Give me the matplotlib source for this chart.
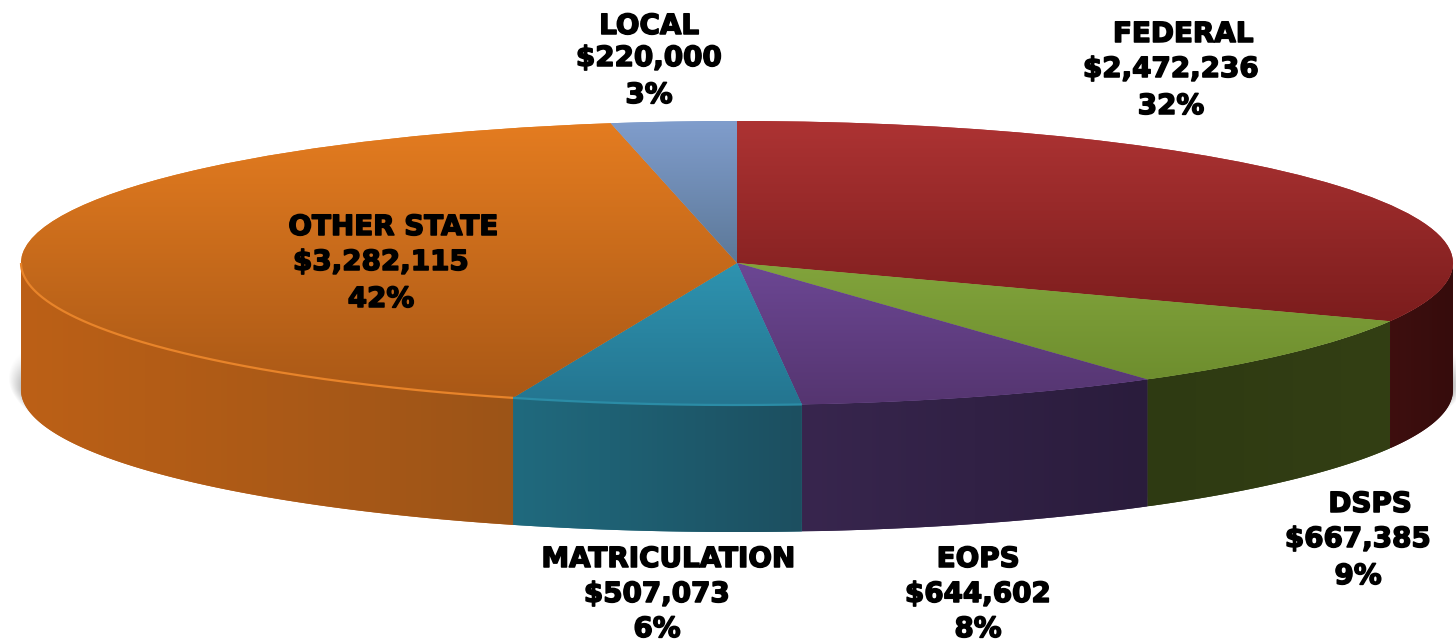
import numpy as np
import matplotlib
matplotlib.use("Agg")
import matplotlib.pyplot as plt
import matplotlib.patheffects as pe
from matplotlib.patches import Polygon
from matplotlib.colors import LinearSegmentedColormap

categories = ["FEDERAL", "DSPS", "EOPS", "MATRICULATION", "OTHER STATE", "LOCAL"]
amounts = [2472236, 667385, 644602, 507073, 3282115, 220000]
percents = ["32%", "9%", "8%", "6%", "42%", "3%"]

top_colors = [("#AD3333", "#7C1D1D"), ("#82A43C", "#6E8E2E"), ("#6C4794", "#553570"),
              ("#2E93B0", "#247590"), ("#E47C20", "#A95816"), ("#809DCC", "#5C7898")]
side_colors = [("#3E0F0F", "#360C0C"), ("#2E3A12", "#333F14"), ("#38264E", "#2A1C3C"),
               ("#206A7E", "#1C4F60"), ("#BC6016", "#9C5418"), ("#5C7898", "#5C7898")]
rim_colors = [None, None, None, "#2B8CA6", "#E8842A", None]

# Pixel geometry of the disc
W, H = 1456, 643
CX, CY, RX, RY, DEPTH = 737, 263, 716, 142, 127
# (centre x, centre y) in pixels for the three lines of each label
label_lines = {
    "FEDERAL": [(1183, 33), (1171, 68), (1171, 105)],
    "DSPS": [(1370, 503), (1358, 538), (1358, 575)],
    "EOPS": [(978, 558), (978, 593), (978, 628)],
    "MATRICULATION": [(668, 558), (657, 593), (657, 628)],
    "OTHER STATE": [(393, 226), (381, 261), (381, 298)],
    "LOCAL": [(649, 25), (649, 57), (649, 94)],
}

fig = plt.figure(figsize=(W / 100, H / 100), dpi=100, facecolor="white")
ax = fig.add_axes([0, 0, 1, 1])
xlim = ((0 - CX) / RX, (W - CX) / RX)
ylim = ((CY - H) / RY, CY / RY)
d = DEPTH / RY


def cmap(c1, c2):
    return LinearSegmentedColormap.from_list("g", [c1, c2])


def px(x, y):
    return (x - CX) / RX, (CY - y) / RY


# Soft shadow below the disc
gx, gy = np.meshgrid(np.linspace(*xlim, W), np.linspace(ylim[1], ylim[0], H))
dist = np.sqrt((gx / 1.018) ** 2 + ((gy + (DEPTH - 12) / RY) / 1.035) ** 2)
alpha = 0.6 * np.clip((1 - dist) / 0.016, 0, 1)
ypix = CY - gy * RY
alpha *= np.clip((ypix - 350) / 40, 0, 1)
shade = np.zeros((H, W, 4))
shade[..., :3] = 0.55
shade[..., 3] = alpha
ax.imshow(shade, extent=(*xlim, *ylim), aspect="auto", zorder=1, interpolation="bilinear")

# Top surface from the pie
wedges, _ = ax.pie(amounts, radius=1, center=(0, 0), startangle=90, counterclock=False,
                   colors=[c[0] for c in top_colors], wedgeprops={"linewidth": 0})

ramp = np.linspace(0, 1, 256)
for w, (c1, c2), (s1, s2), rim in zip(wedges, top_colors, side_colors, rim_colors):
    w.set_zorder(4)
    verts = w.get_patch_transform().transform(w.get_path().vertices)
    x0, x1 = verts[:, 0].min(), verts[:, 0].max()
    y0, y1 = verts[:, 1].min(), verts[:, 1].max()
    im = ax.imshow(ramp[:, None], cmap=cmap(c1, c2), extent=(x0, x1, y0, y1),
                   aspect="auto", zorder=5)
    im.set_clip_path(w)

    # Front wall where the slice crosses the lower half of the ellipse
    a = max(w.theta1, -180)
    b = min(w.theta2, 0)
    if b > a:
        t = np.radians(np.linspace(a, b, 200))
        xs, ys = np.cos(t), np.sin(t)
        poly = Polygon(np.r_[np.c_[xs, ys], np.c_[xs, ys - d][::-1]], closed=True,
                       facecolor=s1, edgecolor="none", zorder=2)
        ax.add_patch(poly)
        wall = ax.imshow(ramp[None, :], cmap=cmap(s1, s2),
                         extent=(xs.min(), xs.max(), (ys - d).min(), ys.max()),
                         aspect="auto", zorder=3)
        wall.set_clip_path(poly)
        if rim:
            ax.plot(xs, ys, color=rim, lw=1.6, zorder=6, solid_capstyle="butt")

# Labels
font = dict(family=["DejaVu Sans"], fontweight="bold", color="black",
            fontsize=20, ha="center", va="center", zorder=8,
            path_effects=[pe.withStroke(linewidth=1.1, foreground="black")])
for name, amount, pct in zip(categories, amounts, percents):
    lines = [name, f"${amount:,}", pct]
    for text, (lx, ly) in zip(lines, label_lines[name]):
        ax.text(*px(lx, ly + 1), text, **font)

ax.set_xlim(*xlim)
ax.set_ylim(*ylim)
ax.set_aspect("auto")
ax.axis("off")
fig.savefig("out.png", dpi=100, facecolor="white")
